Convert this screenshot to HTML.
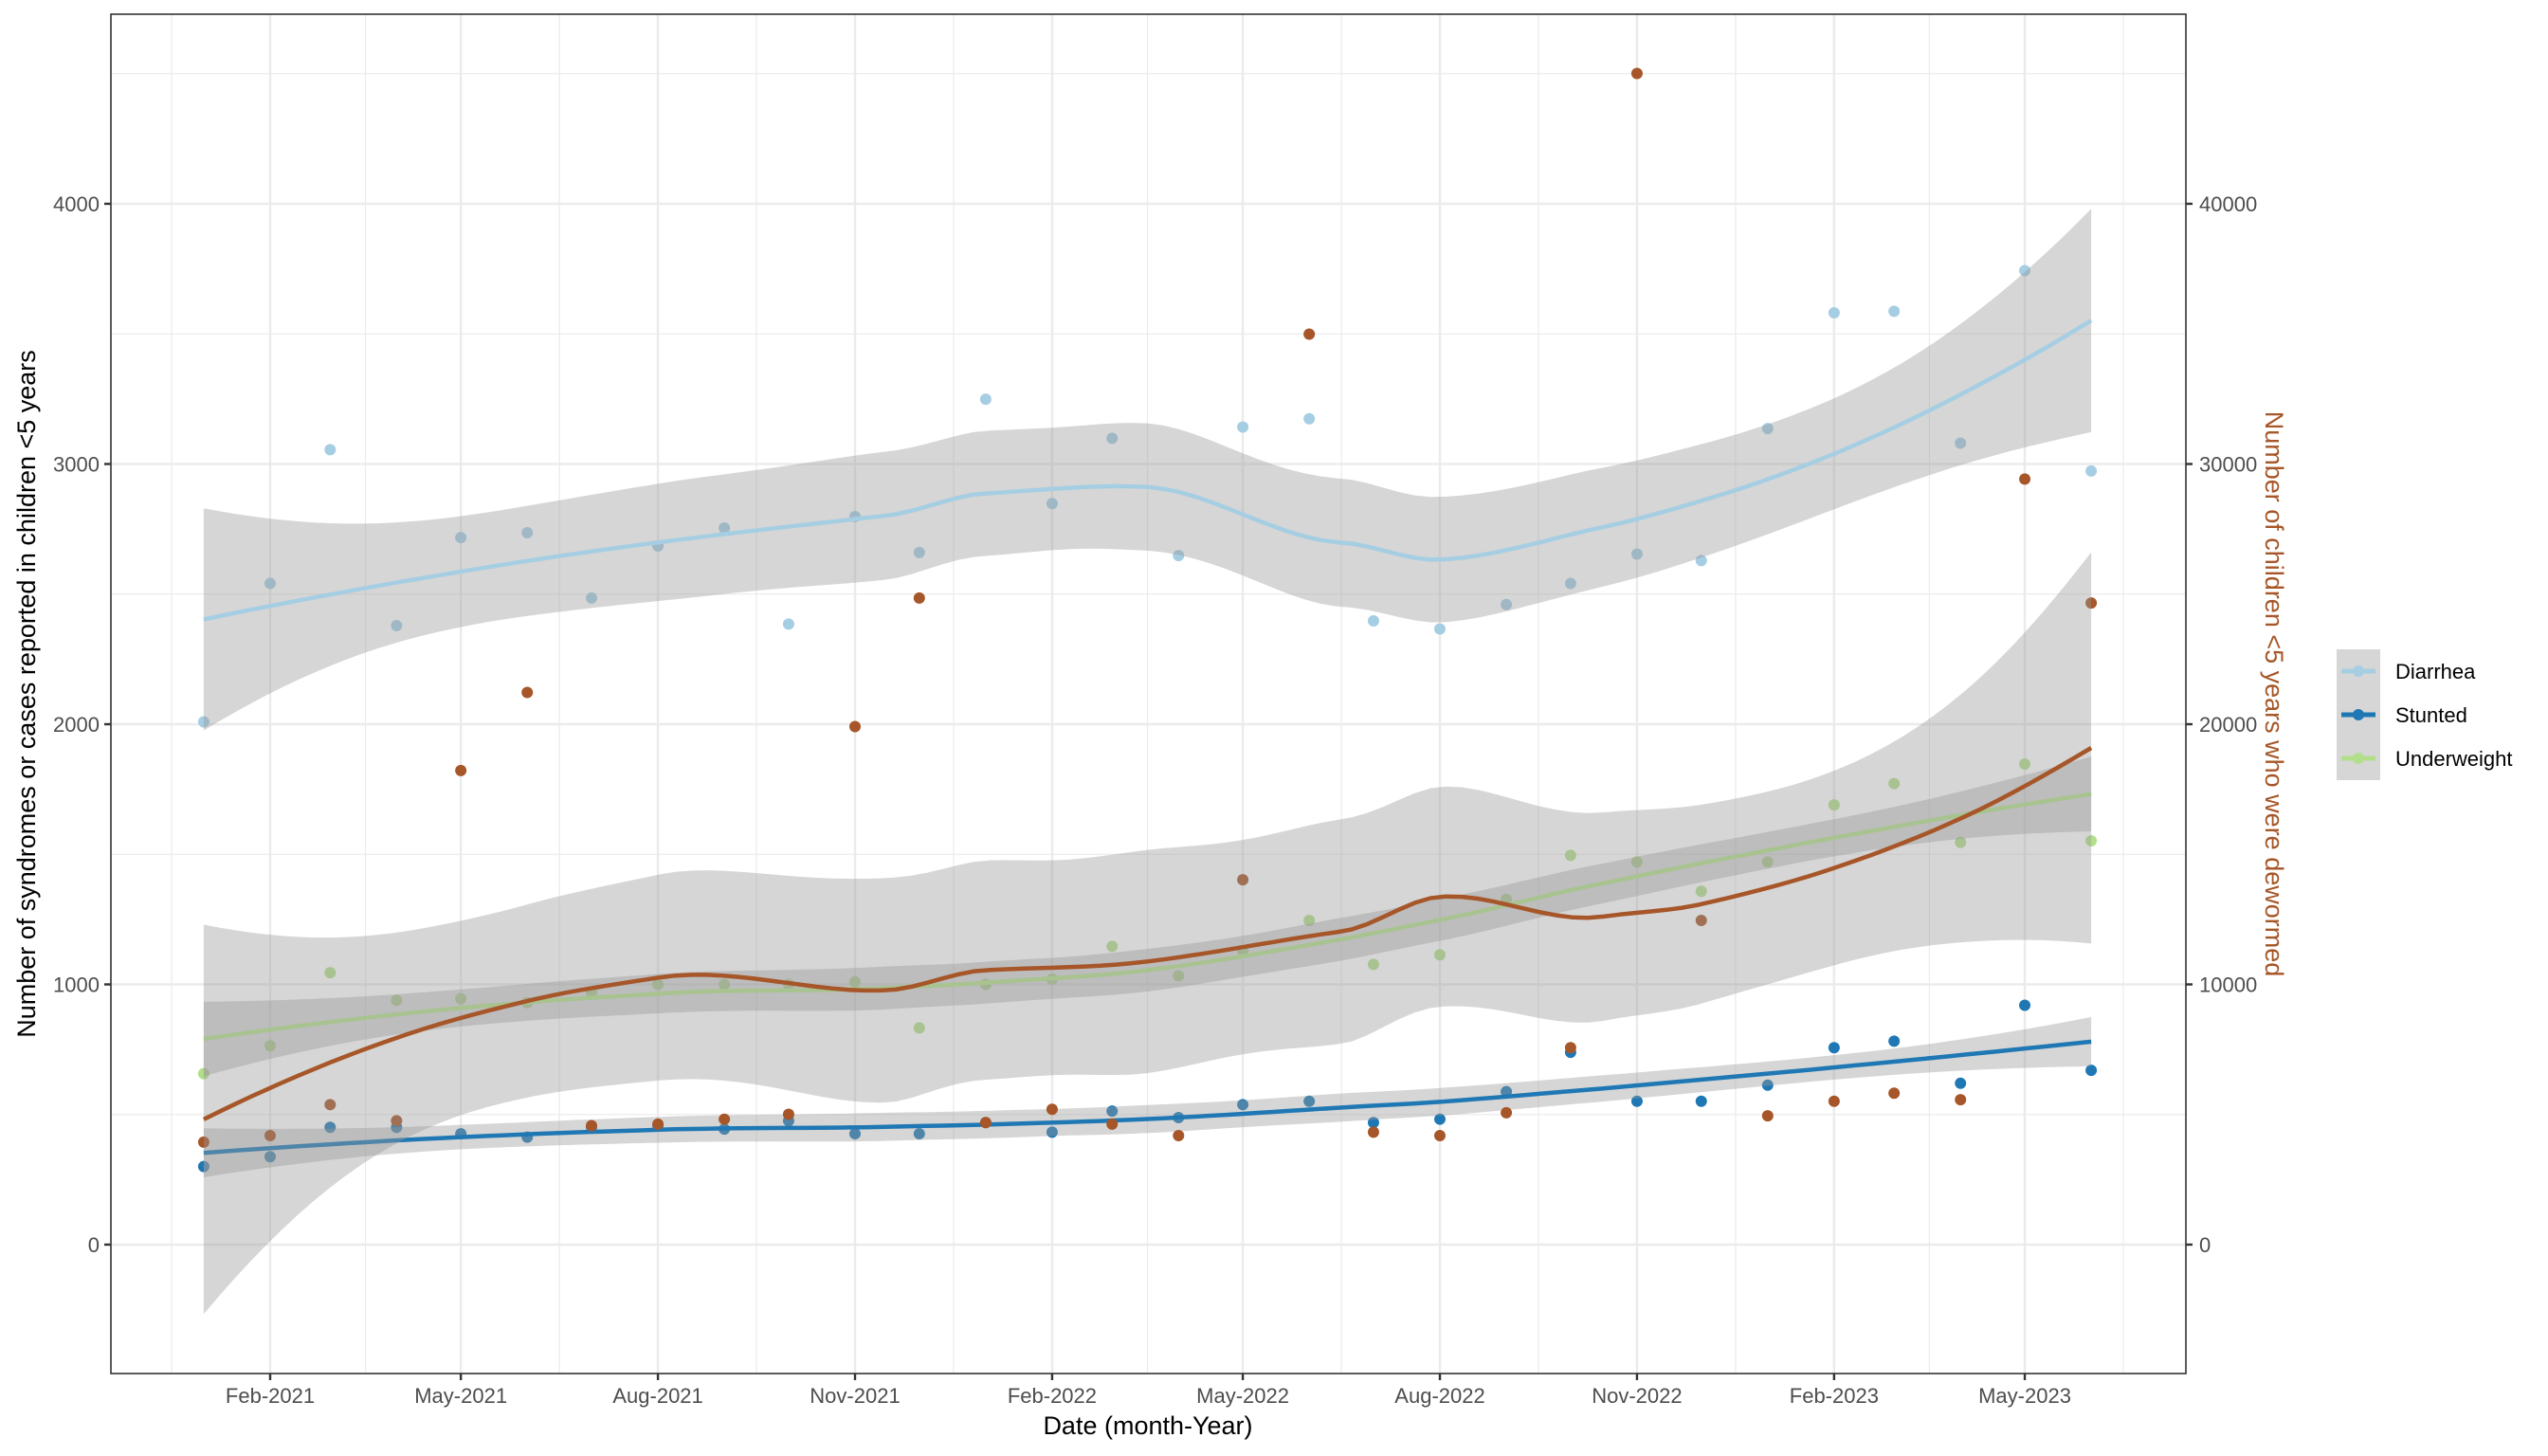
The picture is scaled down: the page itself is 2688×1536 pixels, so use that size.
<!DOCTYPE html>
<html><head><meta charset="utf-8"><title>Chart</title>
<style>html,body{margin:0;padding:0;background:#fff}svg{display:block}text{font-family:"Liberation Sans",Arial,sans-serif}</style>
</head><body>
<svg id="chart" width="2688" height="1536" viewBox="0 0 2688 1536" xmlns="http://www.w3.org/2000/svg">
<defs><clipPath id="panelClip"><rect x="117" y="15" width="2189" height="1434"/></clipPath></defs>
<rect x="0" y="0" width="2688" height="1536" fill="#fff"/>
<g id="grid"></g>
<g id="marks" clip-path="url(#panelClip)"></g>
<rect x="117" y="15" width="2189" height="1434" fill="none" stroke="#333" stroke-width="1.6"/>
<g id="axes"></g>
<text x="1211" y="1513" font-size="27" text-anchor="middle" fill="#000">Date (month-Year)</text>
<text transform="translate(37,732) rotate(-90)" font-size="27" text-anchor="middle" fill="#000">Number of syndromes or cases reported in children &lt;5 years</text>
<text transform="translate(2390,732) rotate(90)" font-size="27" text-anchor="middle" fill="#a65628">Number of children &lt;5 years who were dewormed</text>
<g>
  <rect x="2465" y="685" width="46" height="138" fill="#d6d6d6"/>
  <g>
    <line x1="2470" y1="708" x2="2506" y2="708" stroke="#a6cee3" stroke-width="5"/>
    <circle cx="2488" cy="708" r="6" fill="#a6cee3"/>
    <text x="2527" y="716" font-size="22" fill="#000">Diarrhea</text>
  </g>
  <g>
    <line x1="2470" y1="754" x2="2506" y2="754" stroke="#1f78b4" stroke-width="5"/>
    <circle cx="2488" cy="754" r="6" fill="#1f78b4"/>
    <text x="2527" y="762" font-size="22" fill="#000">Stunted</text>
  </g>
  <g>
    <line x1="2470" y1="800" x2="2506" y2="800" stroke="#b2df8a" stroke-width="5"/>
    <circle cx="2488" cy="800" r="6" fill="#b2df8a"/>
    <text x="2527" y="808" font-size="22" fill="#000">Underweight</text>
  </g>
</g>
</svg>
<script>
const months = ["2021-01","2021-02","2021-03","2021-04","2021-05","2021-06","2021-07","2021-08","2021-09","2021-10","2021-11","2021-12",
"2022-01","2022-02","2022-03","2022-04","2022-05","2022-06","2022-07","2022-08","2022-09","2022-10","2022-11","2022-12",
"2023-01","2023-02","2023-03","2023-04","2023-05","2023-06"];
const diarrhea = [2009,2541,3055,2379,2717,2736,2485,2685,2754,2385,2798,2660,3249,2848,3099,2648,3142,3174,2397,2366,2460,2541,2654,2629,3136,3581,3587,3080,3743,2973];
const stunted = [300,338,451,451,426,413,451,457,444,476,426,426,469,432,513,488,538,551,469,482,588,739,551,551,613,757,782,620,920,670];
const underweight = [657,764,1045,939,945,930,970,1000,1000,1000,1010,833,1000,1020,1146,1033,1130,1246,1077,1114,1327,1496,1471,1358,1471,1690,1772,1546,1847,1552];
const dewormed = [3940,4190,5380,4760,18220,21220,4570,4630,4820,5010,19910,24850,4690,5200,4630,4190,14020,34990,4320,4190,5070,7570,45010,12460,4950,5510,5820,5570,29420,24660];
const xTickLabels = ["Feb-2021","May-2021","Aug-2021","Nov-2021","Feb-2022","May-2022","Aug-2022","Nov-2022","Feb-2023","May-2023"];
const xTickDates = ["2021-02","2021-05","2021-08","2021-11","2022-02","2022-05","2022-08","2022-11","2023-02","2023-05"];
const yLeftTicks = [0,1000,2000,3000,4000];
const yRightTicks = [0,10000,20000,30000,40000];

const NS = "http://www.w3.org/2000/svg";
const PL=117, PR=2306, PT=15, PB=1449;
function dayOf(s){const p=s.split("-");return (Date.UTC(+p[0],+p[1]-1,1)-Date.UTC(2021,1,1))/864e5;}
function xS(d){return 285 + d*2.2601;}
function yL(v){return 1313 - v*0.2745;}
function yR(v){return yL(v/10);}
function mk(tag, attrs, parent){const e=document.createElementNS(NS,tag);for(const k in attrs)e.setAttribute(k,attrs[k]);parent.appendChild(e);return e;}

const grid=document.getElementById("grid"), marks=document.getElementById("marks"), axes=document.getElementById("axes");
const tickDays = xTickDates.map(dayOf);
const allBreaks = [dayOf("2020-11")].concat(tickDays).concat([dayOf("2023-08")]);
for(let i=0;i<allBreaks.length-1;i++){
  const m=xS((allBreaks[i]+allBreaks[i+1])/2);
  if(m>PL&&m<PR){const l=mk("line",{x1:m,x2:m,y1:PT,y2:PB,stroke:"#ebebeb","stroke-width":1.2},grid);
  
  }
}
for(let v=-500; v<=4500; v+=1000){const y=yL(v); if(y>PT&&y<PB){const l=mk("line",{x1:PL,x2:PR,y1:y,y2:y,stroke:"#ebebeb","stroke-width":1.2},grid);
  
  }}
tickDays.forEach(d=>{const x=xS(d);const l=mk("line",{x1:x,x2:x,y1:PT,y2:PB,stroke:"#ebebeb","stroke-width":2.4},grid);
  
  });
yLeftTicks.forEach(v=>{const y=yL(v);const l=mk("line",{x1:PL,x2:PR,y1:y,y2:y,stroke:"#ebebeb","stroke-width":2.4},grid);
  
  });
tickDays.forEach((d,i)=>{const x=xS(d);
  const t=mk("line",{x1:x,x2:x,y1:PB,y2:PB+7,stroke:"#333","stroke-width":2.4},axes);
  
  
  const lb=mk("text",{x:x,y:1480,"font-size":22,"text-anchor":"middle",fill:"#4d4d4d"},axes);lb.textContent=xTickLabels[i];
  
  });
yLeftTicks.forEach(v=>{const y=yL(v);
  const t=mk("line",{x1:PL-7,x2:PL,y1:y,y2:y,stroke:"#333","stroke-width":2.4},axes);
  
  
  const lb=mk("text",{x:PL-12,y:y+8,"font-size":22,"text-anchor":"end",fill:"#4d4d4d"},axes);lb.textContent=v;
  
  });
yRightTicks.forEach(v=>{const y=yR(v);
  const t=mk("line",{x1:PR,x2:PR+7,y1:y,y2:y,stroke:"#333","stroke-width":2.4},axes);
  
  
  const lb=mk("text",{x:PR+14,y:y+8,"font-size":22,"text-anchor":"start",fill:"#4d4d4d"},axes);lb.textContent=v;
  
  });

const xs = months.map(dayOf);
const SC=30;
function inv3(m){const[a,b,c]=m[0],[d,e,f]=m[1],[g,h,i]=m[2];
  const A=e*i-f*h,B=-(d*i-f*g),C=d*h-e*g,det=a*A+b*B+c*C;
  return [[A/det,-(b*i-c*h)/det,(b*f-c*e)/det],[B/det,(a*i-c*g)/det,-(a*f-c*d)/det],[C/det,-(a*h-b*g)/det,(a*e-b*d)/det]];}
function localRows(x0, X){
  const n=X.length, q=Math.floor(n*0.75);
  const ds=X.map(x=>Math.abs(x-x0)); const sorted=ds.slice().sort((a,b)=>a-b);
  const h=sorted[q-1]*1.0000001+1e-9;
  const w=ds.map(d=>{const u=Math.min(d/h,1);return Math.pow(1-u*u*u,3);});
  const A=[[0,0,0],[0,0,0],[0,0,0]];
  for(let i=0;i<n;i++){const t=(X[i]-x0)/SC;const b=[1,t,t*t];for(let r=0;r<3;r++)for(let c=0;c<3;c++)A[r][c]+=w[i]*b[r]*b[c];}
  const Ai=inv3(A);
  const L=X.map((x,i)=>{const t=(x-x0)/SC;return w[i]*(Ai[0][0]+Ai[0][1]*t+Ai[0][2]*t*t);});
  const D=X.map((x,i)=>{const t=(x-x0)/SC;return w[i]*(Ai[1][0]+Ai[1][1]*t+Ai[1][2]*t*t)/SC;});
  return {L:L,D:D};
}
function vertices(X){
  const v=[X[0],X[X.length-1]];
  function split(lo,hi){ if(hi-lo+1<=4) return; const m=(lo+hi)/2; const mi=Math.floor(m);
    const cut=(hi-lo+1)%2===0?(X[mi]+X[mi+1])/2:X[Math.round(m)]; v.push(cut);
    const li=(hi-lo+1)%2===0?mi:Math.round(m); split(lo,li); split(li,hi);}
  split(0,X.length-1);
  return Array.from(new Set(v)).sort((a,b)=>a-b);
}
function makeInterp(X){
  const V=vertices(X); const R=V.map(v=>localRows(v,X));
  return function(x){
    let k=0; while(k<V.length-2 && x>V[k+1]) k++;
    const a=V[k], b=V[k+1], dx=b-a, t=(x-a)/dx;
    const h00=2*t*t*t-3*t*t+1, h10=t*t*t-2*t*t+t, h01=-2*t*t*t+3*t*t, h11=t*t*t-t*t;
    return X.map((_,i)=>h00*R[k].L[i]+h10*dx*R[k].D[i]+h01*R[k+1].L[i]+h11*dx*R[k+1].D[i]);
  };
}
function loessFit(X,Y,bandMult){
  const n=X.length; const row=makeInterp(X); const L=X.map(x=>row(x));
  const fitted=L.map(r=>r.reduce((s,l,j)=>s+l*Y[j],0));
  const M=[];for(let i=0;i<n;i++){M.push([]);for(let j=0;j<n;j++)M[i].push((i===j?1:0)-L[i][j]);}
  const Q=[];for(let i=0;i<n;i++){Q.push([]);for(let j=0;j<n;j++){let s=0;for(let k=0;k<n;k++)s+=M[k][i]*M[k][j];Q[i].push(s);}}
  let d1=0;for(let i=0;i<n;i++)d1+=Q[i][i];
  let d2=0;for(let i=0;i<n;i++)for(let j=0;j<n;j++)d2+=Q[i][j]*Q[j][i];
  let rss=0;for(let i=0;i<n;i++)rss+=Math.pow(Y[i]-fitted[i],2);
  const s=Math.sqrt(rss/d1), df=d1*d1/d2, z=1.959964;
  const t=(z+(z*z*z+z)/(4*df)+(5*Math.pow(z,5)+16*z*z*z+3*z)/(96*df*df))*bandMult;
  const out=[]; const x0=X[0], x1=X[n-1];
  for(let k=0;k<=120;k++){const x=x0+(x1-x0)*k/120;const r=row(x);
    const f=r.reduce((a,l,j)=>a+l*Y[j],0);const se=s*Math.sqrt(r.reduce((a,l)=>a+l*l,0));
    out.push({x:x,f:f,lo:f-t*se,hi:f+t*se});}
  return out;
}
function drawPoints(Y, yf, color, name){
  Y.forEach((v,i)=>{const c=mk("circle",{cx:xS(xs[i]),cy:yf(v),r:6,fill:color},marks);
    
    });
}
function drawSmooth(Y, yf, color, name, bandMult){
  const fit=loessFit(xs,Y,bandMult);
  let d="M"+fit.map(p=>xS(p.x).toFixed(1)+","+yf(p.hi).toFixed(1)).join("L");
  d+="L"+fit.slice().reverse().map(p=>xS(p.x).toFixed(1)+","+yf(p.lo).toFixed(1)).join("L")+"Z";
  const rb=mk("path",{d:d,fill:"#999999","fill-opacity":0.4,stroke:"none"},marks);
  
  
  const ln=mk("path",{d:"M"+fit.map(p=>xS(p.x).toFixed(1)+","+yf(p.f).toFixed(1)).join("L"),fill:"none",stroke:color,"stroke-width":4.5,"stroke-linejoin":"round"},marks);
  
  
}
drawPoints(diarrhea,yL,"#a6cee3","diarrhea-point");
drawPoints(stunted,yL,"#1f78b4","stunted-point");
drawPoints(underweight,yL,"#b2df8a","underweight-point");
drawSmooth(diarrhea,yL,"#a6cee3","diarrhea",1);
drawSmooth(stunted,yL,"#1f78b4","stunted",1);
drawSmooth(underweight,yL,"#b2df8a","underweight",1);
drawPoints(dewormed,yR,"#a65628","dewormed-point");
drawSmooth(dewormed,yR,"#a65628","dewormed",0.5);
</script>
</body></html>
